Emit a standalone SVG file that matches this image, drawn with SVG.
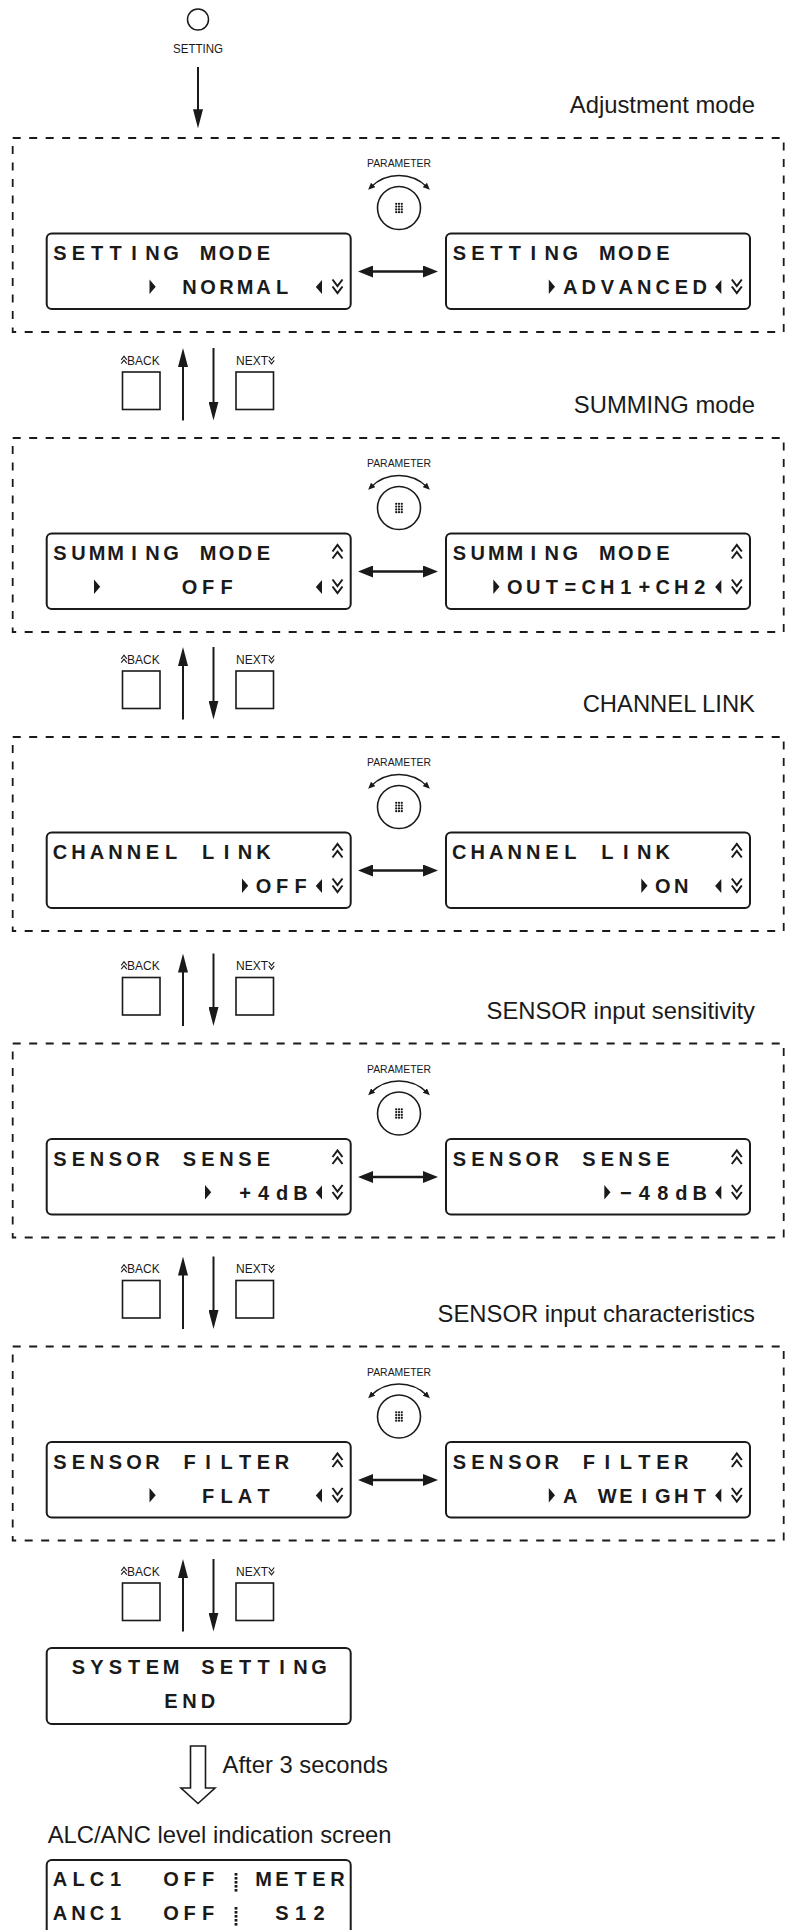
<svg xmlns="http://www.w3.org/2000/svg" width="787" height="1930" viewBox="0 0 787 1930">
<defs>
<style>
text{font-family:"Liberation Sans",Arial,sans-serif;fill:#1a1a1a}
.lcd{fill:#fff;stroke:#1a1a1a;stroke-width:2}
.lt{font-family:"Liberation Sans Narrow","Liberation Sans",Arial,sans-serif;font-weight:bold;font-size:20px;text-anchor:middle}
.mode{font-size:23.8px;text-anchor:end}
.cap{font-size:23.8px}
.sm{font-size:12px}
.par{font-size:11.5px;text-anchor:middle}
.dash{fill:none;stroke:#1a1a1a;stroke-width:1.8;stroke-dasharray:8 8.5}
.btn{fill:none;stroke:#1a1a1a;stroke-width:1.6}
.knob{fill:none;stroke:#1a1a1a;stroke-width:1.6}
.arr{fill:none;stroke:#1a1a1a;stroke-width:2;marker-end:url(#ah)}
.dbl{fill:none;stroke:#1a1a1a;stroke-width:2.5;marker-start:url(#dh);marker-end:url(#dh)}
.arc{fill:none;stroke:#1a1a1a;stroke-width:1.4;marker-start:url(#sh);marker-end:url(#sh)}
.hollow{fill:#fff;stroke:#1a1a1a;stroke-width:1.6}
</style>
<marker id="ah" viewBox="0 0 19 10" refX="9" refY="5" markerWidth="19" markerHeight="10" markerUnits="userSpaceOnUse" orient="auto"><path d="M0,0 L19,5 L0,10 Z" fill="#1a1a1a"/></marker>
<marker id="dh" viewBox="0 0 15 12" refX="7" refY="6" markerWidth="15" markerHeight="12" markerUnits="userSpaceOnUse" orient="auto-start-reverse"><path d="M0,0 L15,6 L0,12 Z" fill="#1a1a1a"/></marker>
<marker id="sh" viewBox="0 0 7 6" refX="3" refY="3" markerWidth="7" markerHeight="6" markerUnits="userSpaceOnUse" orient="auto-start-reverse"><path d="M0,0 L7,3 L0,6 Z" fill="#1a1a1a"/></marker>
<path id="tr" fill="#1a1a1a" d="M-3,-14.5 L3.2,-7.25 L-3,0 Z"/>
<path id="tl" fill="#1a1a1a" d="M3,-14 L-3.2,-7 L3,0 Z"/>
<path id="cu" fill="none" stroke="#1a1a1a" stroke-width="2" d="M-5,-8.5 L0,-15 L5,-8.5 M-5,-1.5 L0,-8 L5,-1.5"/>
<path id="cd" fill="none" stroke="#1a1a1a" stroke-width="2" d="M-5,-14.5 L0,-8 L5,-14.5 M-5,-7.5 L0,-1 L5,-7.5"/>
<g id="knob">
<text class="par" x="0" y="-41" textLength="64" lengthAdjust="spacingAndGlyphs">PARAMETER</text>
<path class="arc" d="M-28,-21 A40,40 0 0 1 28,-21"/>
<circle class="knob" cx="0" cy="0" r="21.5"/>
<g fill="#1a1a1a"><circle cx="-2.8" cy="-4.2" r="1.15"/><circle cx="0" cy="-4.2" r="1.15"/><circle cx="2.8" cy="-4.2" r="1.15"/><circle cx="-2.8" cy="-1.4" r="1.15"/><circle cx="0" cy="-1.4" r="1.15"/><circle cx="2.8" cy="-1.4" r="1.15"/><circle cx="-2.8" cy="1.4" r="1.15"/><circle cx="0" cy="1.4" r="1.15"/><circle cx="2.8" cy="1.4" r="1.15"/><circle cx="-2.8" cy="4.2" r="1.15"/><circle cx="0" cy="4.2" r="1.15"/><circle cx="2.8" cy="4.2" r="1.15"/></g>
</g>
<g id="btns">
<use href="#cu" transform="translate(124,0) scale(0.55)"/>
<text class="sm" x="127" y="0">BACK</text>
<text class="sm" x="236" y="0">NEXT</text>
<use href="#cd" transform="translate(271.5,0) scale(0.55)"/>
<rect class="btn" x="122.5" y="7.5" width="37.5" height="37.5"/>
<rect class="btn" x="236" y="7.5" width="37.5" height="37.5"/>
</g>
<g id="divider" fill="#1a1a1a"><rect x="-1.4" y="-12.5" width="2.8" height="2.6"/><rect x="-1.4" y="-8.5" width="2.8" height="2.6"/><rect x="-1.4" y="-4.5" width="2.8" height="2.6"/><rect x="-1.4" y="-0.5" width="2.8" height="2.6"/><rect x="-1.4" y="3.5" width="2.8" height="2.6"/></g>
</defs>
<rect width="787" height="1930" fill="#fff"/>

<g id="setting-key">
<circle cx="198" cy="19.5" r="10.5" fill="none" stroke="#1a1a1a" stroke-width="1.5"/>
<text class="sm" x="198" y="52.5" text-anchor="middle" textLength="50" lengthAdjust="spacingAndGlyphs">SETTING</text>
</g>

<!-- Section 1: Adjustment mode -->
<g id="sec1">
<text class="mode" x="755" y="113">Adjustment mode</text>
<rect class="dash" x="12.7" y="138" width="771" height="194"/>
</g>
<g id="knob1"><use href="#knob" transform="translate(399,208)"/></g>
<g id="lcd1a" transform="translate(46.7,233.5)">
<rect class="lcd" width="304" height="75.5" rx="5"/>
<text class="lt" y="26.5" x="13.3 31.8 50.3 68.8 87.3 105.8 124.3 142.8 161.3 179.8 198.3 216.8">SETTING MODE</text>
<use href="#tr" x="105.8" y="60.5"/>
<text class="lt" y="60.5" x="142.8 161.3 179.8 198.3 216.8 235.3">NORMAL</text>
<use href="#tl" x="272.3" y="60.5"/><use href="#cd" x="290.8" y="60.5"/>
</g>
<g id="lcd1b" transform="translate(446,233.5)">
<rect class="lcd" width="304" height="75.5" rx="5"/>
<text class="lt" y="26.5" x="13.3 31.8 50.3 68.8 87.3 105.8 124.3 142.8 161.3 179.8 198.3 216.8">SETTING MODE</text>
<use href="#tr" x="105.8" y="60.5"/>
<text class="lt" y="60.5" x="124.3 142.8 161.3 179.8 198.3 216.8 235.3 253.8">ADVANCED</text>
<use href="#tl" x="272.3" y="60.5"/><use href="#cd" x="290.8" y="60.5"/>
</g>

<g id="keys1"><use href="#btns" transform="translate(0,364.5)"/></g>

<!-- Section 2: SUMMING -->
<g id="sec2">
<text class="mode" x="755" y="413">SUMMING mode</text>
<rect class="dash" x="12.7" y="438" width="771" height="194"/>
</g>
<g id="knob2"><use href="#knob" transform="translate(399,508)"/></g>
<g id="lcd2a" transform="translate(46.7,533.5)">
<rect class="lcd" width="304" height="75.5" rx="5"/>
<text class="lt" y="26.5" x="13.3 31.8 50.3 68.8 87.3 105.8 124.3 142.8 161.3 179.8 198.3 216.8">SUMMING MODE</text>
<use href="#cu" x="290.8" y="26.5"/>
<use href="#tr" x="50.3" y="60.5"/>
<text class="lt" y="60.5" x="142.8 161.3 179.8">OFF</text>
<use href="#tl" x="272.3" y="60.5"/><use href="#cd" x="290.8" y="60.5"/>
</g>
<g id="lcd2b" transform="translate(446,533.5)">
<rect class="lcd" width="304" height="75.5" rx="5"/>
<text class="lt" y="26.5" x="13.3 31.8 50.3 68.8 87.3 105.8 124.3 142.8 161.3 179.8 198.3 216.8">SUMMING MODE</text>
<use href="#cu" x="290.8" y="26.5"/>
<use href="#tr" x="50.3" y="60.5"/>
<text class="lt" y="60.5" x="68.8 87.3 105.8 124.3 142.8 161.3 179.8 198.3 216.8 235.3 253.8">OUT=CH1+CH2</text>
<use href="#tl" x="272.3" y="60.5"/><use href="#cd" x="290.8" y="60.5"/>
</g>

<g id="keys2"><use href="#btns" transform="translate(0,663.5)"/></g>

<!-- Section 3: CHANNEL LINK -->
<g id="sec3">
<text class="mode" x="755" y="712">CHANNEL LINK</text>
<rect class="dash" x="12.7" y="737" width="771" height="194"/>
</g>
<g id="knob3"><use href="#knob" transform="translate(399,807)"/></g>
<g id="lcd3a" transform="translate(46.7,832.5)">
<rect class="lcd" width="304" height="75.5" rx="5"/>
<text class="lt" y="26.5" x="13.3 31.8 50.3 68.8 87.3 105.8 124.3 142.8 161.3 179.8 198.3 216.8">CHANNEL LINK</text>
<use href="#cu" x="290.8" y="26.5"/>
<use href="#tr" x="198.3" y="60.5"/>
<text class="lt" y="60.5" x="216.8 235.3 253.8">OFF</text>
<use href="#tl" x="272.3" y="60.5"/><use href="#cd" x="290.8" y="60.5"/>
</g>
<g id="lcd3b" transform="translate(446,832.5)">
<rect class="lcd" width="304" height="75.5" rx="5"/>
<text class="lt" y="26.5" x="13.3 31.8 50.3 68.8 87.3 105.8 124.3 142.8 161.3 179.8 198.3 216.8">CHANNEL LINK</text>
<use href="#cu" x="290.8" y="26.5"/>
<use href="#tr" x="198.3" y="60.5"/>
<text class="lt" y="60.5" x="216.8 235.3">ON</text>
<use href="#tl" x="272.3" y="60.5"/><use href="#cd" x="290.8" y="60.5"/>
</g>

<g id="keys3"><use href="#btns" transform="translate(0,970)"/></g>

<!-- Section 4: SENSOR SENSE -->
<g id="sec4">
<text class="mode" x="755" y="1018.5">SENSOR input sensitivity</text>
<rect class="dash" x="12.7" y="1043.5" width="771" height="194"/>
</g>
<g id="knob4"><use href="#knob" transform="translate(399,1113.5)"/></g>
<g id="lcd4a" transform="translate(46.7,1139)">
<rect class="lcd" width="304" height="75.5" rx="5"/>
<text class="lt" y="26.5" x="13.3 31.8 50.3 68.8 87.3 105.8 124.3 142.8 161.3 179.8 198.3 216.8">SENSOR SENSE</text>
<use href="#cu" x="290.8" y="26.5"/>
<use href="#tr" x="161.3" y="60.5"/>
<text class="lt" y="60.5" x="198.3 216.8 235.3 253.8">+4dB</text>
<use href="#tl" x="272.3" y="60.5"/><use href="#cd" x="290.8" y="60.5"/>
</g>
<g id="lcd4b" transform="translate(446,1139)">
<rect class="lcd" width="304" height="75.5" rx="5"/>
<text class="lt" y="26.5" x="13.3 31.8 50.3 68.8 87.3 105.8 124.3 142.8 161.3 179.8 198.3 216.8">SENSOR SENSE</text>
<use href="#cu" x="290.8" y="26.5"/>
<use href="#tr" x="161.3" y="60.5"/>
<text class="lt" y="60.5" x="179.8 198.3 216.8 235.3 253.8">−48dB</text>
<use href="#tl" x="272.3" y="60.5"/><use href="#cd" x="290.8" y="60.5"/>
</g>

<g id="keys4"><use href="#btns" transform="translate(0,1273)"/></g>

<!-- Section 5: SENSOR FILTER -->
<g id="sec5">
<text class="mode" x="755" y="1321.5">SENSOR input characteristics</text>
<rect class="dash" x="12.7" y="1346.5" width="771" height="194"/>
</g>
<g id="knob5"><use href="#knob" transform="translate(399,1416.5)"/></g>
<g id="lcd5a" transform="translate(46.7,1442)">
<rect class="lcd" width="304" height="75.5" rx="5"/>
<text class="lt" y="26.5" x="13.3 31.8 50.3 68.8 87.3 105.8 124.3 142.8 161.3 179.8 198.3 216.8 235.3">SENSOR FILTER</text>
<use href="#cu" x="290.8" y="26.5"/>
<use href="#tr" x="105.8" y="60.5"/>
<text class="lt" y="60.5" x="161.3 179.8 198.3 216.8">FLAT</text>
<use href="#tl" x="272.3" y="60.5"/><use href="#cd" x="290.8" y="60.5"/>
</g>
<g id="lcd5b" transform="translate(446,1442)">
<rect class="lcd" width="304" height="75.5" rx="5"/>
<text class="lt" y="26.5" x="13.3 31.8 50.3 68.8 87.3 105.8 124.3 142.8 161.3 179.8 198.3 216.8 235.3">SENSOR FILTER</text>
<use href="#cu" x="290.8" y="26.5"/>
<use href="#tr" x="105.8" y="60.5"/>
<text class="lt" y="60.5" x="124.3 142.8 161.3 179.8 198.3 216.8 235.3 253.8">A WEIGHT</text>
<use href="#tl" x="272.3" y="60.5"/><use href="#cd" x="290.8" y="60.5"/>
</g>

<g id="keys5"><use href="#btns" transform="translate(0,1575.5)"/></g>

<!-- End -->
<g id="lcd-end" transform="translate(46.7,1648)">
<rect class="lcd" width="304" height="76" rx="5"/>
<text class="lt" y="25.5" x="31.8 50.3 68.8 87.3 105.8 124.3 142.8 161.3 179.8 198.3 216.8 235.3 253.8 272.3">SYSTEM SETTING</text>
<text class="lt" y="59.5" x="124.3 142.8 161.3">END</text>
</g>
<g id="after-label"><text class="cap" x="222.6" y="1772.7">After 3 seconds</text></g>
<g id="alc-label"><text class="cap" x="47.7" y="1843">ALC/ANC level indication screen</text></g>
<g id="lcd-alc" transform="translate(46.7,1860)">
<rect class="lcd" width="304" height="82" rx="5"/>
<text class="lt" y="25.5" x="13.3 31.8 50.3 68.8">ALC1</text>
<text class="lt" y="25.5" x="124.3 142.8 161.3">OFF</text>
<use href="#divider" x="189.3" y="25.5"/>
<text class="lt" y="25.5" x="216.8 235.3 253.8 272.3 290.8">METER</text>
<text class="lt" y="59.5" x="13.3 31.8 50.3 68.8">ANC1</text>
<text class="lt" y="59.5" x="124.3 142.8 161.3">OFF</text>
<use href="#divider" x="189.3" y="59.5"/>
<text class="lt" y="59.5" x="235.3 253.8 272.3">S12</text>
</g>

<g id="connectors">
<line class="arr" x1="198" y1="67" x2="198" y2="118.3"/>
<line class="dbl" x1="366" y1="271.5" x2="430" y2="271.5"/>
<line class="dbl" x1="366" y1="571.5" x2="430" y2="571.5"/>
<line class="dbl" x1="366" y1="870.5" x2="430" y2="870.5"/>
<line class="dbl" x1="366" y1="1177" x2="430" y2="1177"/>
<line class="dbl" x1="366" y1="1480" x2="430" y2="1480"/>
<line class="arr" x1="183" y1="420.5" x2="183" y2="358"/>
<line class="arr" x1="213.5" y1="348" x2="213.5" y2="410.5"/>
<line class="arr" x1="183" y1="719.5" x2="183" y2="657"/>
<line class="arr" x1="213.5" y1="647" x2="213.5" y2="709.5"/>
<line class="arr" x1="183" y1="1026" x2="183" y2="963.5"/>
<line class="arr" x1="213.5" y1="953.5" x2="213.5" y2="1016"/>
<line class="arr" x1="183" y1="1329" x2="183" y2="1266.5"/>
<line class="arr" x1="213.5" y1="1256.5" x2="213.5" y2="1319"/>
<line class="arr" x1="183" y1="1631.5" x2="183" y2="1569"/>
<line class="arr" x1="213.5" y1="1559" x2="213.5" y2="1621.5"/>
<polygon class="hollow" points="190.5,1746 205.5,1746 205.5,1788 215,1788 198,1803.5 181,1788 190.5,1788"/>
</g>
</svg>
